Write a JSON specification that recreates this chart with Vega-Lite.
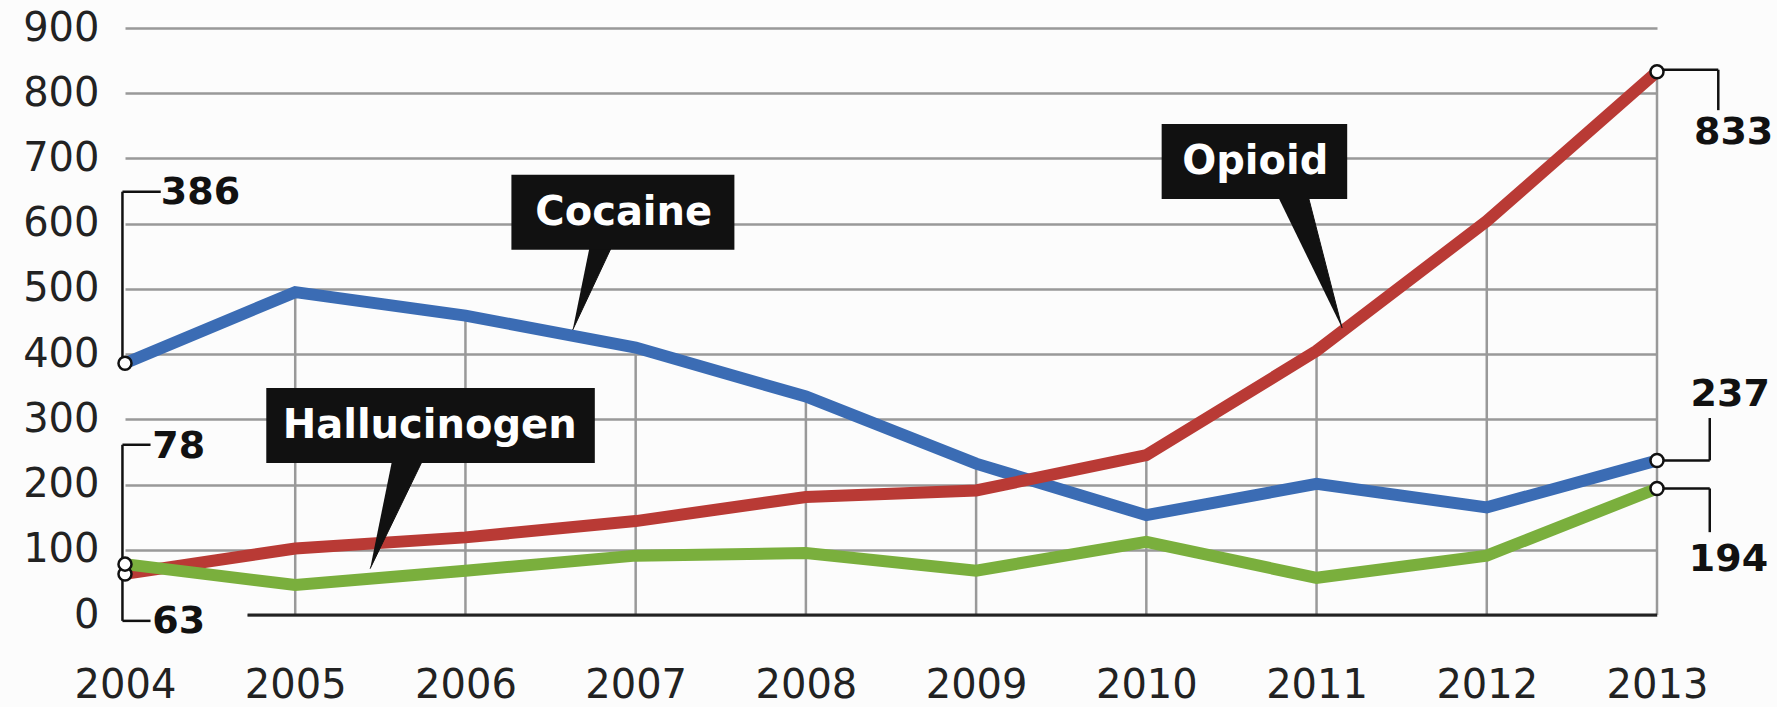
{
  "$schema": "https://vega.github.io/schema/vega-lite/v6.json",
  "width": 1532,
  "height": 587,
  "autosize": {"type": "none"},
  "padding": {"left": 125, "top": 28, "right": 120, "bottom": 92},
  "background": "#fcfcfc",
  "config": {"view": {"stroke": null}, "font": "DejaVu Sans"},
  "datasets": {
    "drugs": [
      {"drug": "Cocaine", "year": 2004, "value": 386},
      {"drug": "Cocaine", "year": 2005, "value": 495},
      {"drug": "Cocaine", "year": 2006, "value": 459},
      {"drug": "Cocaine", "year": 2007, "value": 410},
      {"drug": "Cocaine", "year": 2008, "value": 335},
      {"drug": "Cocaine", "year": 2009, "value": 232},
      {"drug": "Cocaine", "year": 2010, "value": 153},
      {"drug": "Cocaine", "year": 2011, "value": 201},
      {"drug": "Cocaine", "year": 2012, "value": 165},
      {"drug": "Cocaine", "year": 2013, "value": 237},
      {"drug": "Opioid", "year": 2004, "value": 63},
      {"drug": "Opioid", "year": 2005, "value": 102},
      {"drug": "Opioid", "year": 2006, "value": 119},
      {"drug": "Opioid", "year": 2007, "value": 144},
      {"drug": "Opioid", "year": 2008, "value": 181},
      {"drug": "Opioid", "year": 2009, "value": 191},
      {"drug": "Opioid", "year": 2010, "value": 245},
      {"drug": "Opioid", "year": 2011, "value": 405},
      {"drug": "Opioid", "year": 2012, "value": 604},
      {"drug": "Opioid", "year": 2013, "value": 833},
      {"drug": "Hallucinogen", "year": 2004, "value": 78},
      {"drug": "Hallucinogen", "year": 2005, "value": 46},
      {"drug": "Hallucinogen", "year": 2006, "value": 68},
      {"drug": "Hallucinogen", "year": 2007, "value": 91},
      {"drug": "Hallucinogen", "year": 2008, "value": 95},
      {"drug": "Hallucinogen", "year": 2009, "value": 68},
      {"drug": "Hallucinogen", "year": 2010, "value": 112},
      {"drug": "Hallucinogen", "year": 2011, "value": 57},
      {"drug": "Hallucinogen", "year": 2012, "value": 91},
      {"drug": "Hallucinogen", "year": 2013, "value": 194}
    ],
    "pointers": [
      {"callout": "Cocaine", "i": 0, "year": 2006.73, "value": 565},
      {"callout": "Cocaine", "i": 1, "year": 2006.86, "value": 565},
      {"callout": "Cocaine", "i": 2, "year": 2006.63, "value": 437},
      {"callout": "Opioid", "i": 0, "year": 2010.77, "value": 643},
      {"callout": "Opioid", "i": 1, "year": 2010.95, "value": 643},
      {"callout": "Opioid", "i": 2, "year": 2011.15, "value": 440},
      {"callout": "Hallucinogen", "i": 0, "year": 2005.57, "value": 238},
      {"callout": "Hallucinogen", "i": 1, "year": 2005.75, "value": 238},
      {"callout": "Hallucinogen", "i": 2, "year": 2005.44, "value": 71}
    ]
  },
  "layer": [
    {
      "data": {"name": "drugs"},
      "transform": [
        {"aggregate": [{"op": "max", "field": "value", "as": "top"}], "groupby": ["year"]},
        {"filter": "datum.year > 2004"}
      ],
      "mark": {"type": "rule", "color": "#999999", "strokeWidth": 2.5},
      "encoding": {
        "x": {"field": "year", "type": "quantitative", "title": null, "scale": {"domain": [2004, 2013], "nice": false, "zero": false},
          "axis": {"values": [2004, 2005, 2006, 2007, 2008, 2009, 2010, 2011, 2012, 2013], "format": "d", "grid": false, "domain": false, "ticks": false, "tickSize": 0, "labelPadding": 50, "labelFontSize": 40, "labelColor": "#222222", "labelFont": "DejaVu Sans", "labelFlush": false, "title": null}},
        "y": {"field": "top", "type": "quantitative", "title": null, "scale": {"domain": [0, 900], "nice": false, "zero": false},
          "axis": {"values": [0, 100, 200, 300, 400, 500, 600, 700, 800, 900], "grid": true, "gridColor": "#999999", "gridWidth": 2.5, "domain": false, "ticks": false, "tickSize": 0, "labelPadding": 26, "labelFontSize": 40, "labelColor": "#222222", "labelFont": "DejaVu Sans", "title": null}},
        "y2": {"datum": 0}
      }
    },
    {
      "data": {"values": [{"k": 1}]},
      "mark": {"type": "rule", "color": "#fcfcfc", "strokeWidth": 5},
      "encoding": {
        "x": {"datum": 2003.97, "type": "quantitative"},
        "x2": {"datum": 2004.72},
        "y": {"datum": 0, "type": "quantitative"}
      }
    },
    {
      "data": {"values": [{"k": 1}]},
      "mark": {"type": "rule", "color": "#222222", "strokeWidth": 3},
      "encoding": {
        "x": {"datum": 2004.72, "type": "quantitative"},
        "x2": {"datum": 2013},
        "y": {"datum": 0, "type": "quantitative"}
      }
    },
    {
      "data": {"name": "drugs"},
      "mark": {"type": "line", "strokeWidth": 12},
      "encoding": {
        "x": {"field": "year", "type": "quantitative", "title": null},
        "y": {"field": "value", "type": "quantitative", "title": null},
        "color": {"field": "drug", "type": "nominal", "scale": {"domain": ["Cocaine", "Opioid", "Hallucinogen"], "range": ["#3b6cb4", "#b93a35", "#7aaf3d"]}, "legend": null}
      }
    },
    {
      "data": {"values": [{"k": 1}]},
      "mark": {"type": "rule", "color": "#111111", "strokeWidth": 2.5},
      "encoding": {
        "x": {"datum": 2003.985, "type": "quantitative"},
        "y": {"datum": 386, "type": "quantitative"},
        "y2": {"datum": 649}
      }
    },
    {
      "data": {"values": [{"k": 1}]},
      "mark": {"type": "rule", "color": "#111111", "strokeWidth": 2.5},
      "encoding": {
        "x": {"datum": 2003.985, "type": "quantitative"},
        "x2": {"datum": 2004.21},
        "y": {"datum": 649, "type": "quantitative"}
      }
    },
    {
      "data": {"values": [{"k": 1}]},
      "mark": {"type": "rule", "color": "#111111", "strokeWidth": 2.5},
      "encoding": {
        "x": {"datum": 2003.985, "type": "quantitative"},
        "y": {"datum": 261, "type": "quantitative"},
        "y2": {"datum": -9}
      }
    },
    {
      "data": {"values": [{"k": 1}]},
      "mark": {"type": "rule", "color": "#111111", "strokeWidth": 2.5},
      "encoding": {
        "x": {"datum": 2003.985, "type": "quantitative"},
        "x2": {"datum": 2004.15},
        "y": {"datum": 261, "type": "quantitative"}
      }
    },
    {
      "data": {"values": [{"k": 1}]},
      "mark": {"type": "rule", "color": "#111111", "strokeWidth": 2.5},
      "encoding": {
        "x": {"datum": 2003.985, "type": "quantitative"},
        "x2": {"datum": 2004.15},
        "y": {"datum": -9, "type": "quantitative"}
      }
    },
    {
      "data": {"values": [{"k": 1}]},
      "mark": {"type": "rule", "color": "#111111", "strokeWidth": 2.5},
      "encoding": {
        "x": {"datum": 2013, "type": "quantitative"},
        "x2": {"datum": 2013.36},
        "y": {"datum": 836, "type": "quantitative"}
      }
    },
    {
      "data": {"values": [{"k": 1}]},
      "mark": {"type": "rule", "color": "#111111", "strokeWidth": 2.5},
      "encoding": {
        "x": {"datum": 2013.36, "type": "quantitative"},
        "y": {"datum": 836, "type": "quantitative"},
        "y2": {"datum": 774}
      }
    },
    {
      "data": {"values": [{"k": 1}]},
      "mark": {"type": "rule", "color": "#111111", "strokeWidth": 2.5},
      "encoding": {
        "x": {"datum": 2013, "type": "quantitative"},
        "x2": {"datum": 2013.31},
        "y": {"datum": 237, "type": "quantitative"}
      }
    },
    {
      "data": {"values": [{"k": 1}]},
      "mark": {"type": "rule", "color": "#111111", "strokeWidth": 2.5},
      "encoding": {
        "x": {"datum": 2013.31, "type": "quantitative"},
        "y": {"datum": 237, "type": "quantitative"},
        "y2": {"datum": 302}
      }
    },
    {
      "data": {"values": [{"k": 1}]},
      "mark": {"type": "rule", "color": "#111111", "strokeWidth": 2.5},
      "encoding": {
        "x": {"datum": 2013, "type": "quantitative"},
        "x2": {"datum": 2013.31},
        "y": {"datum": 194, "type": "quantitative"}
      }
    },
    {
      "data": {"values": [{"k": 1}]},
      "mark": {"type": "rule", "color": "#111111", "strokeWidth": 2.5},
      "encoding": {
        "x": {"datum": 2013.31, "type": "quantitative"},
        "y": {"datum": 194, "type": "quantitative"},
        "y2": {"datum": 127}
      }
    },
    {
      "data": {"name": "drugs"},
      "transform": [{"filter": "datum.year === 2004 || datum.year === 2013"}],
      "mark": {"type": "point", "filled": true, "fill": "#ffffff", "stroke": "#111111", "strokeWidth": 2.5, "size": 170, "opacity": 1},
      "encoding": {
        "x": {"field": "year", "type": "quantitative", "title": null},
        "y": {"field": "value", "type": "quantitative", "title": null}
      }
    },
    {
      "data": {"name": "pointers"},
      "mark": {"type": "line", "fill": "#111111", "stroke": "#111111", "strokeWidth": 1},
      "encoding": {
        "x": {"field": "year", "type": "quantitative", "title": null},
        "y": {"field": "value", "type": "quantitative", "title": null},
        "detail": {"field": "callout", "type": "nominal"},
        "order": {"field": "i", "type": "quantitative"}
      }
    },
    {
      "data": {"values": [{"label": "Cocaine"}]},
      "mark": {"type": "rect", "color": "#111111"},
      "encoding": {
        "x": {"datum": 2006.27, "type": "quantitative"},
        "x2": {"datum": 2007.58},
        "y": {"datum": 560, "type": "quantitative"},
        "y2": {"datum": 675}
      }
    },
    {
      "data": {"values": [{"label": "Opioid"}]},
      "mark": {"type": "rect", "color": "#111111"},
      "encoding": {
        "x": {"datum": 2010.09, "type": "quantitative"},
        "x2": {"datum": 2011.18},
        "y": {"datum": 638, "type": "quantitative"},
        "y2": {"datum": 753}
      }
    },
    {
      "data": {"values": [{"label": "Hallucinogen"}]},
      "mark": {"type": "rect", "color": "#111111"},
      "encoding": {
        "x": {"datum": 2004.83, "type": "quantitative"},
        "x2": {"datum": 2006.76},
        "y": {"datum": 233, "type": "quantitative"},
        "y2": {"datum": 348}
      }
    },
    {
      "data": {"values": [{"label": "Cocaine"}]},
      "mark": {"type": "text", "font": "DejaVu Sans", "fontWeight": "bold", "fontSize": 40, "color": "#ffffff", "align": "center", "baseline": "middle"},
      "encoding": {
        "x": {"datum": 2006.93, "type": "quantitative"},
        "y": {"datum": 617, "type": "quantitative"},
        "text": {"field": "label", "type": "nominal"}
      }
    },
    {
      "data": {"values": [{"label": "Opioid"}]},
      "mark": {"type": "text", "font": "DejaVu Sans", "fontWeight": "bold", "fontSize": 40, "color": "#ffffff", "align": "center", "baseline": "middle"},
      "encoding": {
        "x": {"datum": 2010.64, "type": "quantitative"},
        "y": {"datum": 695, "type": "quantitative"},
        "text": {"field": "label", "type": "nominal"}
      }
    },
    {
      "data": {"values": [{"label": "Hallucinogen"}]},
      "mark": {"type": "text", "font": "DejaVu Sans", "fontWeight": "bold", "fontSize": 40, "color": "#ffffff", "align": "center", "baseline": "middle"},
      "encoding": {
        "x": {"datum": 2005.79, "type": "quantitative"},
        "y": {"datum": 290, "type": "quantitative"},
        "text": {"field": "label", "type": "nominal"}
      }
    },
    {
      "data": {"values": [{"label": "386"}]},
      "mark": {"type": "text", "font": "DejaVu Sans", "fontWeight": "bold", "fontSize": 38, "color": "#111111", "align": "left", "baseline": "middle"},
      "encoding": {
        "x": {"datum": 2004.21, "type": "quantitative"},
        "y": {"datum": 647, "type": "quantitative"},
        "text": {"field": "label", "type": "nominal"}
      }
    },
    {
      "data": {"values": [{"label": "78"}]},
      "mark": {"type": "text", "font": "DejaVu Sans", "fontWeight": "bold", "fontSize": 38, "color": "#111111", "align": "left", "baseline": "middle"},
      "encoding": {
        "x": {"datum": 2004.16, "type": "quantitative"},
        "y": {"datum": 258, "type": "quantitative"},
        "text": {"field": "label", "type": "nominal"}
      }
    },
    {
      "data": {"values": [{"label": "63"}]},
      "mark": {"type": "text", "font": "DejaVu Sans", "fontWeight": "bold", "fontSize": 38, "color": "#111111", "align": "left", "baseline": "middle"},
      "encoding": {
        "x": {"datum": 2004.16, "type": "quantitative"},
        "y": {"datum": -11, "type": "quantitative"},
        "text": {"field": "label", "type": "nominal"}
      }
    },
    {
      "data": {"values": [{"label": "833"}]},
      "mark": {"type": "text", "font": "DejaVu Sans", "fontWeight": "bold", "fontSize": 38, "color": "#111111", "align": "center", "baseline": "middle"},
      "encoding": {
        "x": {"datum": 2013.45, "type": "quantitative"},
        "y": {"datum": 739, "type": "quantitative"},
        "text": {"field": "label", "type": "nominal"}
      }
    },
    {
      "data": {"values": [{"label": "237"}]},
      "mark": {"type": "text", "font": "DejaVu Sans", "fontWeight": "bold", "fontSize": 38, "color": "#111111", "align": "center", "baseline": "middle"},
      "encoding": {
        "x": {"datum": 2013.43, "type": "quantitative"},
        "y": {"datum": 337, "type": "quantitative"},
        "text": {"field": "label", "type": "nominal"}
      }
    },
    {
      "data": {"values": [{"label": "194"}]},
      "mark": {"type": "text", "font": "DejaVu Sans", "fontWeight": "bold", "fontSize": 38, "color": "#111111", "align": "center", "baseline": "middle"},
      "encoding": {
        "x": {"datum": 2013.42, "type": "quantitative"},
        "y": {"datum": 84, "type": "quantitative"},
        "text": {"field": "label", "type": "nominal"}
      }
    }
  ]
}
